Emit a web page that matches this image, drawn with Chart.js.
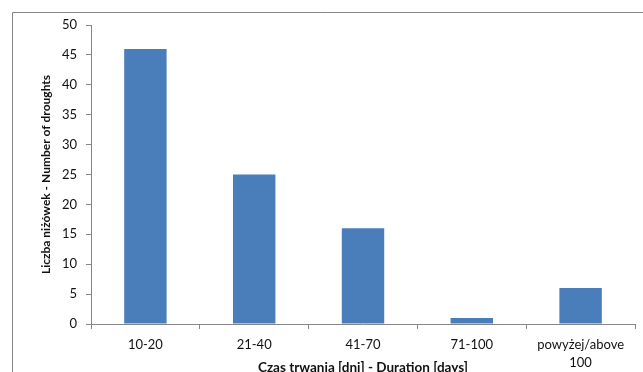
<!DOCTYPE html>
<html>
<head>
<meta charset="utf-8">
<script src="https://cdn.jsdelivr.net/npm/chart.js@4"></script>
<style>
  html, body { margin: 0; padding: 0; background: #fff; overflow: hidden; }
  #wrap { width: 643px; height: 380px; }
</style>
</head>
<body>
<div id="wrap"><canvas id="droughts"></canvas></div>
<script>
// categories and values
var categories = ['10-20', '21-40', '41-70', '71-100', ['powyżej/above', '100']];
var droughtCounts = [46, 25, 16, 1, 6];
var yTicks = [0, 5, 10, 15, 20, 25, 30, 35, 40, 45, 50];

var axisGrey = '#868686';
var textColor = '#111111';

// thin frame round the whole chart (only top and left are visible)
var framePlugin = {
    id: 'frame',
    beforeDraw: function(chart) {
        var ctx = chart.ctx;
        ctx.save();
        ctx.strokeStyle = axisGrey;
        ctx.lineWidth = 1;
        ctx.beginPath();
        ctx.moveTo(12.5, chart.height);
        ctx.lineTo(12.5, 12.5);
        ctx.lineTo(chart.width, 12.5);
        ctx.stroke();
        ctx.restore();
    }
};

var chart = new Chart('droughts', {
    type: 'bar',
    data: {
        labels: categories,
        datasets: [{
            label: 'Liczba niżówek',
            data: droughtCounts,
            backgroundColor: '#4a7ebb',
            borderWidth: 0,
            barPercentage: 0.39,
            categoryPercentage: 1
        }]
    },
    options: {
        responsive: true,
        maintainAspectRatio: false,
        animation: false,
        layout: { padding: { top: 25, right: 8, bottom: 0, left: 0 } },
        plugins: {
            legend: { display: false },
            tooltip: { enabled: false }
        },
        scales: {
            x: {
                grid: { display: true, drawOnChartArea: false, color: axisGrey, tickLength: 5, offset: true },
                border: { color: axisGrey },
                ticks: {
                    color: textColor,
                    padding: 6,
                    maxRotation: 0,
                    autoSkip: false,
                    font: { family: 'Lato', size: 13, lineHeight: 1.45 }
                },
                title: {
                    display: true,
                    text: 'Czas trwania [dni] - Duration [days]',
                    color: textColor,
                    padding: { top: 0, bottom: 4 },
                    font: { family: 'Lato', size: 13.5, weight: 'bold' }
                },
                afterFit: function(scale) { scale.height = 56; }
            },
            y: {
                min: 0,
                max: 50,
                grid: { display: true, drawOnChartArea: false, color: axisGrey, tickLength: 5 },
                border: { color: axisGrey },
                afterBuildTicks: function(scale) {
                    scale.ticks = yTicks.map(function(v) { return { value: v }; });
                },
                ticks: {
                    color: textColor,
                    padding: 9,
                    font: { family: 'Lato', size: 13 }
                },
                title: {
                    display: true,
                    text: 'Liczba niżówek - Number of droughts',
                    color: textColor,
                    padding: { top: 39, bottom: 0 },
                    font: { family: 'Lato', size: 12, weight: 'bold' }
                },
                afterFit: function(scale) { scale.width = 91; }
            }
        }
    },
    plugins: [framePlugin]
});
</script>
</body>
</html>
